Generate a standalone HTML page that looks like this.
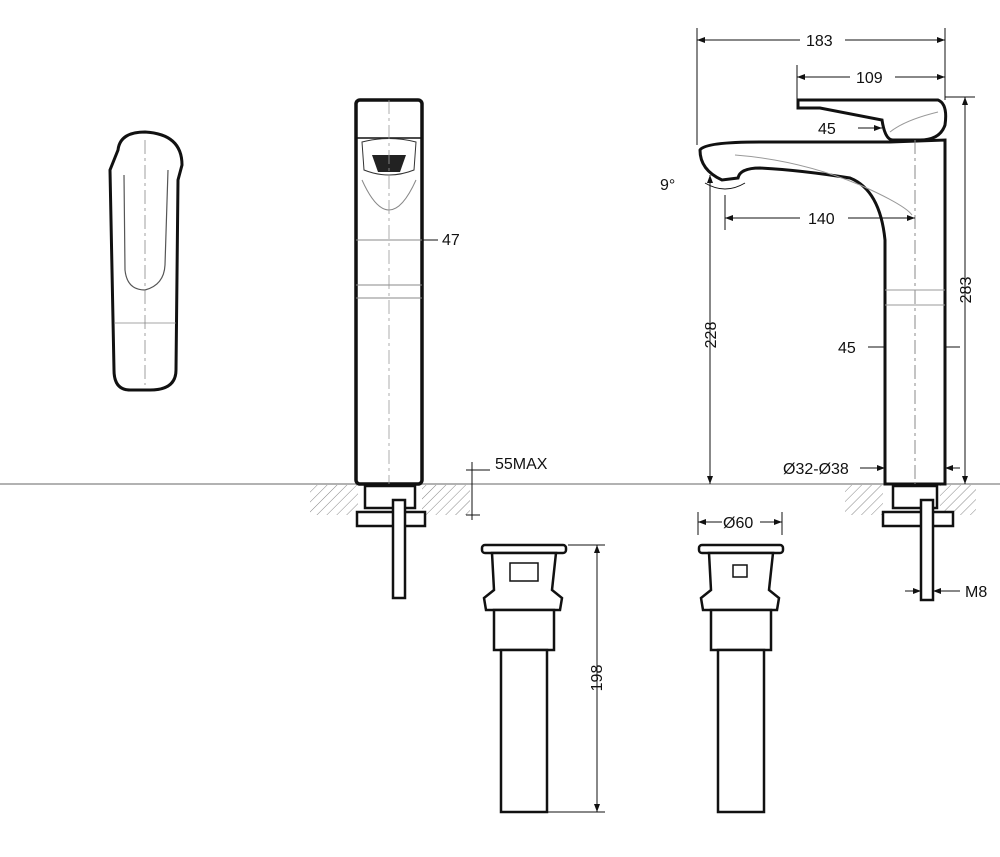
<!DOCTYPE html>
<html><head><meta charset="utf-8"><style>
html,body{margin:0;padding:0;background:#fff;}
svg{display:block;}
text{font-family:"Liberation Sans",sans-serif;font-size:16px;fill:#111;}
</style></head><body>
<svg width="1000" height="857" viewBox="0 0 1000 857" xmlns="http://www.w3.org/2000/svg">
<defs>
<pattern id="h" width="7" height="7" patternUnits="userSpaceOnUse" patternTransform="rotate(45)">
<line x1="0" y1="0" x2="0" y2="7" stroke="#888" stroke-width="1"/></pattern>
<marker id="a" markerWidth="8" markerHeight="6" refX="8" refY="3" orient="auto-start-reverse"><path d="M0,0 L8,3 L0,6z" fill="#111"/></marker>
</defs>
<line x1="0" y1="484" x2="1000" y2="484" stroke="#999" stroke-width="1.5"/>
<rect x="310" y="485" width="48" height="30" fill="url(#h)"/>
<rect x="422" y="485" width="48" height="30" fill="url(#h)"/>
<rect x="845" y="485" width="38" height="30" fill="url(#h)"/>
<rect x="940" y="485" width="36" height="30" fill="url(#h)"/>

<path d="M118,150 Q120,132 145,132 Q182,134 182,165 L178,180 L176,370 Q176,390 150,390 L130,390 Q114,390 114,370 L110,170 Z" fill="none" stroke="#111" stroke-width="3"/>
<path d="M124,175 L125,270 Q127,290 145,290 Q164,285 165,265 L168,170" fill="none" stroke="#555" stroke-width="1.2"/>
<line x1="145" y1="140" x2="145" y2="385" stroke="#888" stroke-width="0.8" stroke-dasharray="14,4,3,4"/>
<line x1="114" y1="323" x2="176" y2="323" stroke="#888" stroke-width="0.8"/>

<rect x="356" y="100" width="66" height="384" rx="4" fill="none" stroke="#111" stroke-width="3.5"/>
<line x1="356" y1="138" x2="422" y2="138" stroke="#111" stroke-width="1.5"/>
<path d="M362,142 Q389,135 416,142 L414,170 Q389,180 364,170 Z" fill="none" stroke="#333" stroke-width="1"/>
<path d="M372,155 L406,155 L400,172 L378,172 Z" fill="#222"/>
<path d="M362,180 Q389,240 416,180" fill="none" stroke="#888"/>
<line x1="356" y1="240" x2="422" y2="240" stroke="#888"/>
<line x1="356" y1="285" x2="422" y2="285" stroke="#888"/>
<line x1="356" y1="298" x2="422" y2="298" stroke="#888"/>
<line x1="389" y1="100" x2="389" y2="484" stroke="#999" stroke-width="0.8" stroke-dasharray="14,4,3,4"/>
<line x1="422" y1="240" x2="438" y2="240" stroke="#111"/>
<text x="442" y="245">47</text>
<rect x="365" y="486" width="50" height="22" fill="#fff" stroke="#111" stroke-width="2.5"/>
<rect x="357" y="512" width="68" height="14" fill="#fff" stroke="#111" stroke-width="2.5"/>
<rect x="393" y="500" width="12" height="98" fill="#fff" stroke="#111" stroke-width="2.5"/>
<line x1="472" y1="462" x2="472" y2="520" stroke="#111"/>
<line x1="466" y1="470" x2="490" y2="470" stroke="#111"/>
<line x1="466" y1="515" x2="480" y2="515" stroke="#111"/>
<text x="495" y="469">55MAX</text>

<g fill="#fff" stroke="#111" stroke-width="2.5">
<rect x="482" y="545" width="84" height="8" rx="3"/>
<path d="M492,553 L556,553 L552,590 L562,598 L560,610 L486,610 L484,598 L494,590 Z"/>
<rect x="494" y="610" width="60" height="40"/>
<rect x="501" y="650" width="46" height="162"/>
<rect x="510" y="563" width="28" height="18" stroke-width="1.5"/>
</g>
<g fill="#fff" stroke="#111" stroke-width="2.5">
<rect x="699" y="545" width="84" height="8" rx="3"/>
<path d="M709,553 L773,553 L769,590 L779,598 L777,610 L703,610 L701,598 L711,590 Z"/>
<rect x="711" y="610" width="60" height="40"/>
<rect x="718" y="650" width="46" height="162"/>
<rect x="733" y="565" width="14" height="12" stroke-width="1.5"/>
</g>
<line x1="568" y1="545" x2="605" y2="545" stroke="#111"/>
<line x1="548" y1="812" x2="605" y2="812" stroke="#111"/>
<line x1="597" y1="545" x2="597" y2="812" stroke="#111" marker-start="url(#a)" marker-end="url(#a)"/>
<text transform="translate(602,678) rotate(-90)" text-anchor="middle">198</text>
<line x1="698" y1="512" x2="698" y2="535" stroke="#111"/>
<line x1="782" y1="512" x2="782" y2="535" stroke="#111"/>
<line x1="698" y1="522" x2="722" y2="522" stroke="#111" marker-start="url(#a)"/>
<line x1="760" y1="522" x2="782" y2="522" stroke="#111" marker-end="url(#a)"/>
<text x="723" y="528">Ø60</text>

<path d="M798,100 L938,100 Q948,104 945,125 Q940,140 920,140 L893,140 Q885,140 882,120 L820,108 L798,108 Z" fill="#fff" stroke="#111" stroke-width="3"/>
<path d="M700,150 Q705,142 760,142 L890,142 L945,140 L945,484 L885,484 L885,240 Q880,190 850,178 Q800,170 760,168 Q740,168 738,178 L722,180 Q700,170 700,150 Z" fill="#fff" stroke="#111" stroke-width="3"/>
<path d="M735,155 Q800,160 860,185 Q905,205 912,215" fill="none" stroke="#999"/>
<path d="M890,132 Q905,120 938,112" fill="none" stroke="#999"/>
<line x1="915" y1="140" x2="915" y2="484" stroke="#888" stroke-dasharray="14,4,3,4"/>
<line x1="885" y1="290" x2="945" y2="290" stroke="#999"/>
<line x1="885" y1="305" x2="945" y2="305" stroke="#999"/>
<rect x="893" y="486" width="44" height="22" fill="#fff" stroke="#111" stroke-width="2.5"/>
<rect x="883" y="512" width="70" height="14" fill="#fff" stroke="#111" stroke-width="2.5"/>
<rect x="921" y="500" width="12" height="100" fill="#fff" stroke="#111" stroke-width="2.5"/>
<line x1="697" y1="28" x2="697" y2="145" stroke="#111"/>
<line x1="945" y1="28" x2="945" y2="100" stroke="#111"/>
<line x1="797" y1="65" x2="797" y2="100" stroke="#111"/>
<line x1="697" y1="40" x2="800" y2="40" stroke="#111" marker-start="url(#a)"/>
<line x1="845" y1="40" x2="945" y2="40" stroke="#111" marker-end="url(#a)"/>
<text x="806" y="46">183</text>
<line x1="797" y1="77" x2="850" y2="77" stroke="#111" marker-start="url(#a)"/>
<line x1="895" y1="77" x2="945" y2="77" stroke="#111" marker-end="url(#a)"/>
<text x="856" y="83">109</text>
<line x1="945" y1="97" x2="975" y2="97" stroke="#111"/>
<line x1="965" y1="97" x2="965" y2="484" stroke="#111" marker-start="url(#a)" marker-end="url(#a)"/>
<text transform="translate(971,290) rotate(-90)" text-anchor="middle">283</text>
<line x1="858" y1="128" x2="882" y2="128" stroke="#111" marker-end="url(#a)"/>
<text x="818" y="134">45</text>
<line x1="710" y1="175" x2="710" y2="484" stroke="#111" marker-start="url(#a)" marker-end="url(#a)"/>
<text transform="translate(716,335) rotate(-90)" text-anchor="middle">228</text>
<line x1="725" y1="195" x2="725" y2="230" stroke="#111"/>
<line x1="725" y1="218" x2="800" y2="218" stroke="#111" marker-start="url(#a)"/>
<line x1="848" y1="218" x2="915" y2="218" stroke="#111" marker-end="url(#a)"/>
<text x="808" y="224">140</text>
<path d="M705,183 Q725,195 745,183" fill="none" stroke="#111"/>
<text x="660" y="190">9°</text>
<line x1="868" y1="347" x2="885" y2="347" stroke="#111"/>
<line x1="945" y1="347" x2="960" y2="347" stroke="#111"/>
<text x="838" y="353">45</text>
<line x1="860" y1="468" x2="885" y2="468" stroke="#111" marker-end="url(#a)"/>
<line x1="945" y1="468" x2="960" y2="468" stroke="#111" marker-start="url(#a)"/>
<text x="783" y="474">Ø32-Ø38</text>
<line x1="905" y1="591" x2="921" y2="591" stroke="#111" marker-end="url(#a)"/>
<line x1="933" y1="591" x2="960" y2="591" stroke="#111" marker-start="url(#a)"/>
<text x="965" y="597">M8</text>
</svg>
</body></html>
